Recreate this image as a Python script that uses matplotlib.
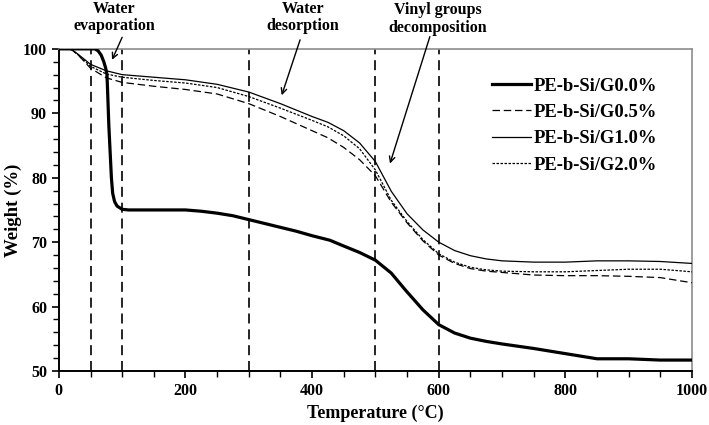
import numpy as np
import matplotlib.pyplot as plt
from matplotlib.ticker import MultipleLocator

# ### TGA curves (temperature in C, weight in %) ###
t_g00 = [0, 25, 50, 57, 62, 67, 71, 74, 76, 77, 79, 81, 83, 85, 88, 92, 100, 110, 150, 200,
         225, 250, 275, 300, 325, 350, 375, 400, 428, 450, 475, 500, 525, 548, 575,
         600, 625, 650, 675, 700, 750, 800, 850, 900, 950, 1000]
w_g00 = [100, 100, 100, 100, 99.7, 99.0, 98.0, 97.0, 96.0, 93.5, 88.0, 84.0, 80.0, 77.6, 76.3,
         75.6, 75.1, 75.0, 75.0, 75.0, 74.8, 74.5, 74.1, 73.5, 72.9, 72.3, 71.7, 71.0, 70.3,
         69.4, 68.4, 67.2, 65.2, 62.5, 59.5, 57.2, 55.9, 55.1, 54.6, 54.2, 53.5, 52.7, 51.9,
         51.9, 51.7, 51.7]

t_g05 = [0, 20, 30, 50, 75, 100, 150, 200, 250, 300, 350, 400, 425, 450, 475, 500, 525,
         550, 575, 600, 625, 650, 675, 700, 750, 800, 850, 900, 950, 1000]
w_g05 = [100, 99.9, 99.1, 97.0, 95.5, 94.8, 94.2, 93.7, 93.0, 91.5, 89.5, 87.3, 86.2, 84.7,
         82.8, 80.3, 76.2, 73.0, 70.2, 68.0, 66.7, 65.9, 65.5, 65.3, 64.9, 64.8, 64.8, 64.7,
         64.5, 63.7]

t_g10 = [0, 20, 30, 50, 75, 100, 150, 200, 250, 300, 350, 400, 425, 450, 475, 500, 525,
         550, 575, 600, 625, 650, 675, 700, 750, 800, 850, 900, 950, 1000]
w_g10 = [100, 99.9, 99.2, 97.6, 96.6, 96.0, 95.6, 95.2, 94.5, 93.3, 91.5, 89.5, 88.6, 87.3,
         85.4, 82.5, 77.9, 74.4, 71.9, 70.0, 68.7, 67.9, 67.4, 67.1, 66.9, 66.9, 67.1, 67.1,
         67.0, 66.7]

t_g20 = [0, 20, 30, 50, 75, 100, 150, 200, 250, 300, 350, 400, 425, 450, 475, 500, 525,
         550, 575, 600, 625, 650, 675, 700, 750, 800, 850, 900, 950, 1000]
w_g20 = [100, 99.9, 99.1, 97.3, 96.1, 95.6, 95.1, 94.7, 94.0, 92.6, 90.8, 88.9, 87.9, 86.5,
         84.5, 81.2, 76.5, 73.2, 70.4, 68.2, 66.9, 66.1, 65.7, 65.5, 65.4, 65.4, 65.6, 65.8,
         65.8, 65.4]

labels = ['PE-b-Si/G0.0%', 'PE-b-Si/G0.5%', 'PE-b-Si/G1.0%', 'PE-b-Si/G2.0%']
region_lines = [50, 100, 300, 500, 600]

plt.rcParams['font.family'] = ['Liberation Serif', 'DejaVu Serif']
plt.rcParams['font.weight'] = 'bold'

fig = plt.figure(figsize=(7.09, 4.25), dpi=100)
ax = fig.add_axes([0.083, 0.127, 0.893, 0.758])

for xv in region_lines:
	ax.axvline(xv, color='black', lw=1.2, ls=(0, (6, 3.5)), zorder=1)

ax.plot(t_g00, w_g00, color='black', lw=2.3, label=labels[0], zorder=3)
ax.plot(t_g05, w_g05, color='black', lw=0.9, ls=(0, (6, 3)), label=labels[1], zorder=3)
ax.plot(t_g10, w_g10, color='black', lw=0.9, label=labels[2], zorder=3)
ax.plot(t_g20, w_g20, color='black', lw=0.9, ls=(0, (2, 1.2)), label=labels[3], zorder=3)

ax.set_xlim(0, 1000)
ax.set_ylim(50, 100)
ax.xaxis.set_major_locator(MultipleLocator(200))
ax.xaxis.set_minor_locator(MultipleLocator(50))
ax.yaxis.set_major_locator(MultipleLocator(10))
ax.yaxis.set_minor_locator(MultipleLocator(2))
ax.tick_params(which='both', direction='out', top=False, right=False, labelsize=11.5)
ax.tick_params(which='major', length=5, width=1.2)
ax.tick_params(which='minor', length=4, width=1.0)
for side in ['top', 'right']:
	ax.spines[side].set_color('#8c8c8c')
	ax.spines[side].set_linewidth(1.2)
for side in ['left', 'bottom']:
	ax.spines[side].set_linewidth(1.4)

ax.set_xlabel('Temperature (°C)', fontsize=13, fontweight='bold', labelpad=4)
ax.set_ylabel('Weight (%)', fontsize=13.5, fontweight='bold', labelpad=1)

arrow = dict(arrowstyle='->', color='black', lw=1.0, shrinkA=0, shrinkB=0)
ax.annotate('', xy=(84, 98.3), xytext=(100, 101.8), arrowprops=arrow, annotation_clip=False)
ax.annotate('', xy=(352, 92.8), xytext=(381, 101.4), arrowprops=arrow, annotation_clip=False)
ax.annotate('', xy=(523, 82.2), xytext=(586, 101.9), arrowprops=arrow, annotation_clip=False)
ax.text(88, 107.5, 'Water\nevaporation', ha='center', va='top', fontsize=11.5, fontweight='bold', linespacing=1.15)
ax.text(386, 107.5, 'Water\ndesorption', ha='center', va='top', fontsize=11.5, fontweight='bold', linespacing=1.15)
ax.text(599, 107.2, 'Vinyl groups\ndecomposition', ha='center', va='top', fontsize=11.5, fontweight='bold', linespacing=1.15)

ax.legend(loc='upper left', bbox_to_anchor=(0.67, 0.94), frameon=False, fontsize=13.4,
          handlelength=2.1, handletextpad=0.1, labelspacing=0.5, borderpad=0)

fig.savefig('out.png', dpi=100)
